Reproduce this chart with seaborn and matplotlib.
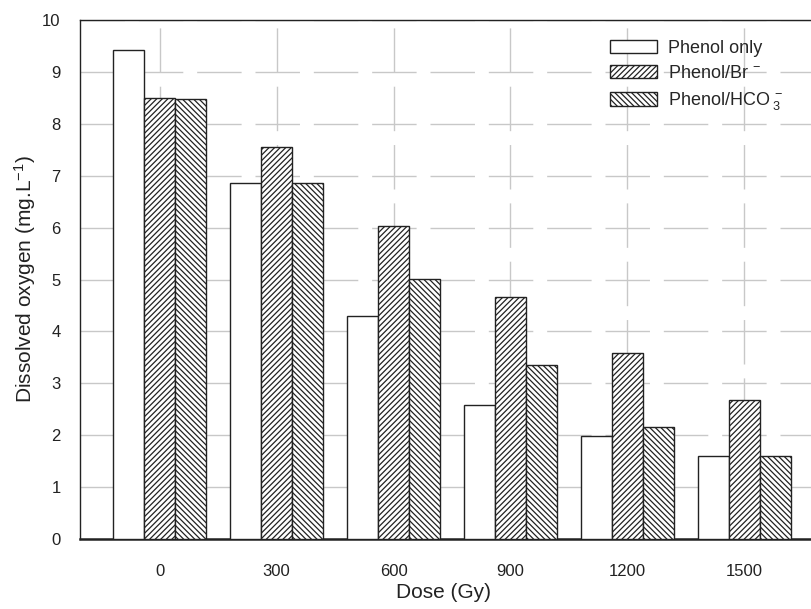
import matplotlib
matplotlib.use("Agg")
import matplotlib.pyplot as plt
import seaborn as sns
import pandas as pd

doses = ["0", "300", "600", "900", "1200", "1500"]
series = ["Phenol only", "Phenol/Br$^{\\ -}$", "Phenol/HCO$_{\\ 3}^{\\ -}$"]
phenol_only = [9.43, 6.86, 4.30, 2.58, 1.98, 1.60]
phenol_br = [8.49, 7.55, 6.04, 4.66, 3.58, 2.68]
phenol_hco3 = [8.48, 6.86, 5.01, 3.35, 2.15, 1.60]
hatches = ["", "//////", "\\\\\\\\\\\\"]

sns.set_style("white")
plt.rcParams["font.family"] = ["Liberation Sans", "DejaVu Sans"]
plt.rcParams["mathtext.fontset"] = "custom"
plt.rcParams["mathtext.rm"] = "Liberation Sans"
plt.rcParams["mathtext.it"] = "Liberation Sans"
plt.rcParams["mathtext.default"] = "regular"
plt.rcParams["hatch.linewidth"] = 0.9
plt.rcParams["hatch.color"] = "#222222"

rows = []
for s, vals in zip(series, [phenol_only, phenol_br, phenol_hco3]):
    for d, v in zip(doses, vals):
        rows.append({"Dose": d, "Series": s, "DO": v})
df = pd.DataFrame(rows)

fig = plt.figure(figsize=(8.12, 6.09), dpi=100)
ax = fig.add_axes([80 / 812, (609 - 539) / 609, 744 / 812, 519 / 609])

sns.barplot(data=df, x="Dose", y="DO", hue="Series", order=doses, hue_order=series,
            palette=["white"] * 3, edgecolor="#222222", linewidth=1.0,
            saturation=1, width=0.8, legend=False, ax=ax, zorder=3)

for cont, h in zip(ax.containers, hatches):
    for p in cont:
        p.set_hatch(h)

ax.set_xlim(-0.68, 5.68)
ax.set_ylim(0, 10)
ax.set_yticks(range(0, 11))
ax.grid(True, color="#c8c8c8", linestyle=(0, (32, 10)), linewidth=1.0, zorder=0)
ax.set_axisbelow(True)

for sp in ["left", "top", "right"]:
    ax.spines[sp].set_color("#222222")
    ax.spines[sp].set_linewidth(1.0)
ax.spines["bottom"].set_color("#222222")
ax.spines["bottom"].set_linewidth(1.8)

ax.tick_params(axis="both", direction="out", length=6, width=1, color="#222222",
               labelsize=12, labelcolor="#222222")
ax.tick_params(axis="y", pad=8)
ax.tick_params(axis="x", pad=12)
ax.set_xlabel("Dose (Gy)", fontsize=15, color="#222222", labelpad=1)
ax.xaxis.set_label_coords((443 - 80) / 744, -0.085)
ax.set_ylabel("Dissolved oxygen (mg.L$^{-1}$)", fontsize=15, color="#222222", labelpad=3)

handles = list(ax.containers)
ax.legend(handles, series, loc="upper left", bbox_to_anchor=(0.712, 0.962),
          frameon=False, fontsize=13, handlelength=2.6, handleheight=0.78,
          labelspacing=0.45, handletextpad=0.6, borderaxespad=0, borderpad=0)

fig.savefig("out.png", dpi=100)
